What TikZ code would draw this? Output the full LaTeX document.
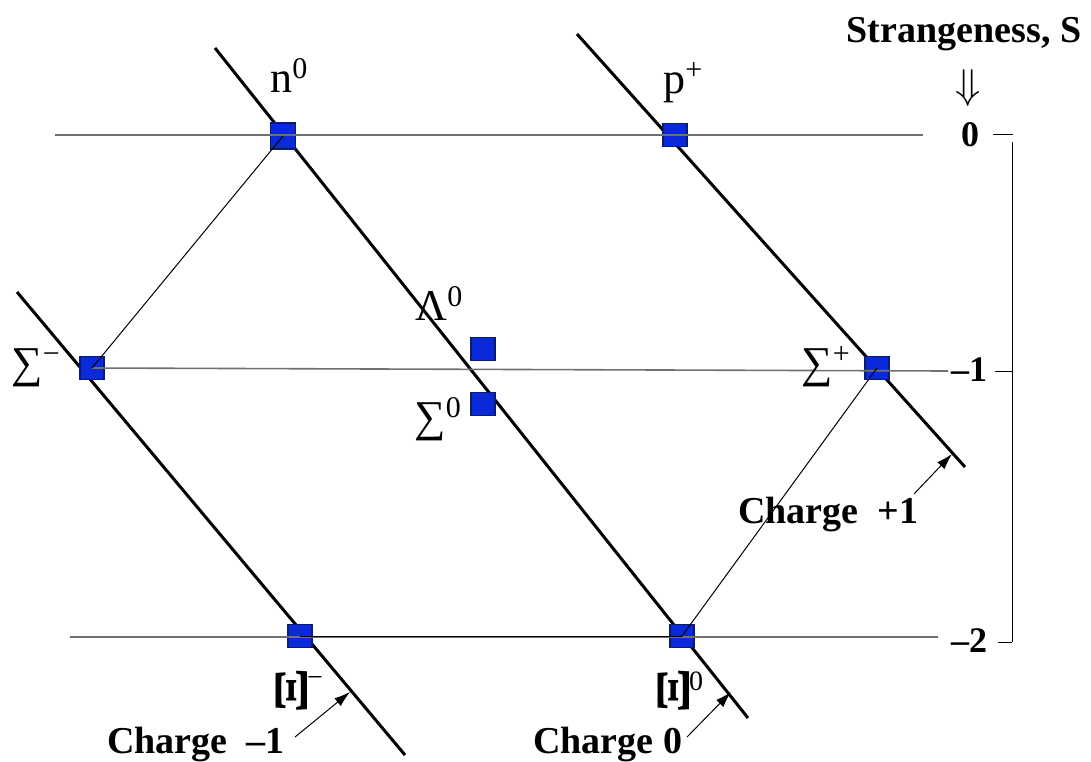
\documentclass[tikz,border=0pt]{standalone}
\usepackage{fontspec}
\setmainfont{Liberation Serif}
\usetikzlibrary{arrows.meta}
\definecolor{pblue}{HTML}{0A2AD9}
\definecolor{pnavy}{HTML}{0A1A6E}
\definecolor{hgray}{HTML}{707070}
\newcommand\upidx[1]{\raisebox{0.3em}{\fontsize{15}{15}\selectfont #1}}
\begin{document}
\begin{tikzpicture}[x=0.5pt,y=-0.5pt,
  particle/.style={draw=pnavy, fill=pblue, minimum width=12pt, minimum height=11.5pt, inner sep=0pt, line width=0.6pt},
  hline/.style={draw=hgray, line width=0.8pt},
  diag/.style={line width=1.5pt, black},
  thinline/.style={line width=0.5pt, black},
  axisline/.style={line width=0.5pt, black},
  lbl/.style={font=\fontsize{22}{24}\selectfont, inner sep=0pt},
  blbl/.style={font=\bfseries\fontsize{19}{21}\selectfont, inner sep=0pt},
  ptr/.style={-{Latex[length=8pt,width=5pt]}, line width=0.5pt}
]
\useasboundingbox (0,0) rectangle (1091,761);
% diagonal lines (charge)
\coordinate (dm1a) at (17,292);  \coordinate (dm1b) at (405,755);
\coordinate (d0a) at (215,48);   \coordinate (d0b) at (748,718);
\coordinate (dp1a) at (577,34);  \coordinate (dp1b) at (965,467);
\draw[diag] (dm1a) -- (dm1b);
\draw[diag] (d0a) -- (d0b);
\draw[diag] (dp1a) -- (dp1b);
% particles
\node[particle, minimum width=12.5pt, minimum height=13pt] (n0) at (283,136) {};
\node[particle] (pp) at (675,135) {};
\node[particle] (Sm) at (92,368) {};
\node[particle] (L0) at (483,349) {};
\node[particle] (S0) at (483,404) {};
\node[particle] (Sp) at (877,368) {};
\node[particle] (Xm) at (300,636) {};
\node[particle] (X0) at (682,636) {};
% horizontal lines
\coordinate (h0a) at (55,135);  \coordinate (h0b) at (923,135);
\coordinate (h1b) at (948,371);
\coordinate (h2a) at (70,637);  \coordinate (h2b) at (938,637);
\draw[hline] (h0a) -- (h0b);
\draw[hline] (Sm.center) -- (h1b);
\draw[hline] (h2a) -- (h2b);
\draw[thinline] (Xm.center) -- (X0.center);
% thin edges
\draw[thinline] (n0.center) -- (Sm.center);
\draw[thinline] (Sp.center) -- (X0.center);
% axis
\coordinate (axt) at (1012,142); \coordinate (axb) at (1012,642);
\draw[axisline] (axt) -- (axb);
\coordinate (t0a) at (993,134); \coordinate (t0b) at (1013,134);
\coordinate (t1a) at (995,371); \coordinate (t1b) at (1012,371);
\coordinate (t2a) at (998,642); \coordinate (t2b) at (1012,642);
\draw[axisline] (t0a) -- (t0b);
\draw[axisline] (t1a) -- (t1b);
\draw[axisline] (t2a) -- (t2b);
% axis labels
\node[blbl, anchor=base] (strange) at (964,42) {Strangeness, S};
\node[inner sep=0pt, font=\fontsize{21}{21}\selectfont] (darr) at (968,88) {$\Downarrow$};
\node[blbl, font=\bfseries\fontsize{18}{20}\selectfont] (s0) at (970,135) {0};
\node[blbl, font=\bfseries\fontsize{18}{20}\selectfont] (s1) at (969,370) {–1};
\node[blbl, font=\bfseries\fontsize{18}{20}\selectfont] (s2) at (969,641) {–2};
% particle labels
\node[lbl, anchor=base west] (ln0) at (270,92) {n\upidx{0}};
\node[lbl, anchor=base west] (lpp) at (663,93) {p\upidx{+}};
\node[lbl, anchor=base west] (lL0) at (415,320) {Λ\upidx{0}};
\node[lbl, anchor=base west] (lS0) at (414,431) {∑\upidx{0}};
\node[lbl, anchor=base west] (lSm) at (11,377) {∑\upidx{−}};
\node[lbl, anchor=base west] (lSp) at (801,377) {∑\upidx{+}};
\node[lbl, font=\bfseries\fontsize{24}{26}\selectfont, rotate=90] (lXm) at (292,691) {\scalebox{1.4}[1]{Ξ}};
\node[lbl, font=\fontsize{14}{14}\selectfont] (lXms) at (315,681) {−};
\node[lbl, font=\bfseries\fontsize{24}{26}\selectfont, rotate=90] (lX0) at (674,691) {\scalebox{1.4}[1]{Ξ}};
\node[lbl, font=\fontsize{14}{14}\selectfont] (lX0s) at (696,681) {0};
% charge labels
\node[blbl, anchor=base west] (cm1) at (107,753) {Charge\ \ –1};
\node[blbl, anchor=base west] (c0) at (533,753) {Charge 0};
\node[blbl, anchor=base west] (cp1) at (738,523) {Charge\ \ +1};
\coordinate (am1a) at (295,737); \coordinate (am1b) at (350,692);
\coordinate (a0a) at (687,737);  \coordinate (a0b) at (731,692);
\coordinate (ap1a) at (914,494); \coordinate (ap1b) at (952,454);
\draw[ptr] (am1a) -- (am1b);
\draw[ptr] (a0a) -- (a0b);
\draw[ptr] (ap1a) -- (ap1b);
\end{tikzpicture}
\end{document}
